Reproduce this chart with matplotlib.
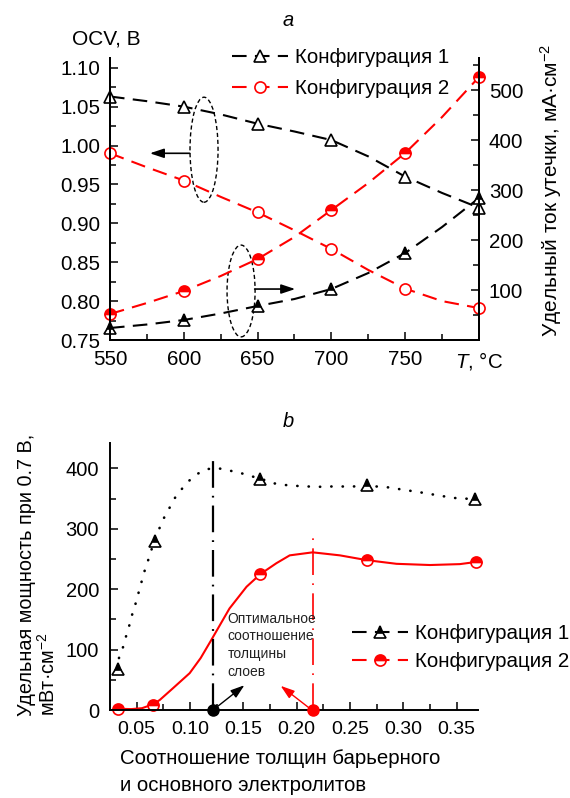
import matplotlib
matplotlib.use("Agg")
import matplotlib.pyplot as plt
from matplotlib.patches import Ellipse
from matplotlib.lines import Line2D

plt.rcParams['font.family'] = ['Liberation Sans', 'DejaVu Sans']
plt.rcParams['mathtext.fontset'] = 'custom'
plt.rcParams['mathtext.rm'] = 'Liberation Sans'
plt.rcParams['mathtext.it'] = 'Liberation Sans:italic'
plt.rcParams['mathtext.bf'] = 'Liberation Sans:bold'

# ---- (a) OCV и ток утечки от температуры ----
t_meas = [550, 600, 650, 700, 750, 800]
ocv1 = [1.063, 1.050, 1.028, 1.007, 0.960, 0.920]
ocv2 = [0.990, 0.955, 0.914, 0.867, 0.816, 0.791]
leak1 = [24, 40, 68, 102, 174, 284]
leak2 = [52, 98, 162, 260, 374, 526]

# линии (шаг 25 °C)
t_line = [550, 575, 600, 625, 650, 675, 700, 725, 750, 775, 800]
ocv1_line = [1.063, 1.057, 1.050, 1.040, 1.028, 1.018, 1.007, 0.986, 0.960, 0.939, 0.920]
ocv2_line = [0.990, 0.972, 0.955, 0.934, 0.914, 0.891, 0.867, 0.840, 0.816, 0.800, 0.791]
leak1_line = [24, 31, 40, 53, 68, 82, 102, 134, 174, 226, 284]
leak2_line = [52, 74, 98, 128, 162, 206, 260, 314, 374, 446, 526]

t_ticklabels = ['550', '600', '650', '700', '750', r'$T$, °C']

# ---- (b) удельная мощность ----
ratio1 = [0.0325, 0.0669, 0.166, 0.2664, 0.367]
power1 = [68, 280, 383, 373, 349]
ratio2 = [0.0325, 0.0653, 0.166, 0.266, 0.368]
power2 = [2, 9, 225, 248, 245]

# кривые
ratio1_line = [0.0334, 0.0372, 0.0397, 0.0428, 0.0456, 0.0488, 0.0516, 0.0544, 0.0572,
               0.0606, 0.0638, 0.0669, 0.0709, 0.0753, 0.0803, 0.0854, 0.0919, 0.0988,
               0.107, 0.117, 0.127, 0.138, 0.148, 0.1576, 0.166, 0.1795, 0.189, 0.1998,
               0.2107, 0.221, 0.2317, 0.242, 0.253, 0.2664, 0.275, 0.284, 0.295, 0.306,
               0.317, 0.327, 0.337, 0.348, 0.367]
power1_line = [86, 104, 120, 138, 157, 175, 193, 211, 229,
               247, 265, 280, 299, 317, 333, 350, 365, 379,
               391, 399, 400, 396, 392, 387, 383, 375, 372.5, 371,
               370, 369.5, 370, 370, 370, 372, 370, 369, 366, 363,
               360, 357, 354, 351, 349]
ratio2_line = [0.0325, 0.045, 0.055, 0.0653, 0.0716, 0.084, 0.0997, 0.11, 0.12, 0.137,
               0.153, 0.166, 0.181, 0.1935, 0.215, 0.2405, 0.266, 0.2936, 0.325, 0.353, 0.368]
power2_line = [2, 1.5, 3, 9.4, 16.5, 36, 61, 86, 116, 168,
               204, 225, 243, 256, 261, 256, 248, 242, 240, 241.5, 245]

opt1_x, opt1_top = 0.122, 414
opt2_x, opt2_top = 0.215, 286

leg_labels = ['Конфигурация 1', 'Конфигурация 2']
RED = '#ff0000'
DASH = (0, (7, 4))

fig = plt.figure(figsize=(5.7, 7.98), dpi=100)
W, H = 570.0, 798.0

# ======================= панель a =======================
ax1 = fig.add_axes([110 / W, 1 - 340 / H, 369 / W, 282 / H])
ax2 = ax1.twinx()

ax1.plot(t_line, ocv1_line, color='black', lw=1.5, ls=DASH)
ax1.plot(t_line, ocv2_line, color=RED, lw=1.5, ls=DASH)
ax1.plot(t_meas, ocv1, ls='none', marker='^', ms=8, mfc='white', mec='black', mew=1.2, clip_on=False)
ax1.plot(t_meas, ocv2, ls='none', marker='o', ms=8, mfc='white', mec=RED, mew=1.2, clip_on=False)

ax2.plot(t_line, leak1_line, color='black', lw=1.5, ls=DASH)
ax2.plot(t_line, leak2_line, color=RED, lw=1.5, ls=DASH)
ax2.plot(t_meas, leak1, ls='none', marker='^', ms=8, fillstyle='top', mfc='black',
         mfcalt='white', mec='black', mew=1.2, clip_on=False)
ax2.plot(t_meas, leak2, ls='none', marker='o', ms=8, fillstyle='top', mfc=RED,
         mfcalt='white', mec=RED, mew=1.2, clip_on=False)

ax1.set_xlim(550, 800)
ax1.set_ylim(0.75, 1.1125)
ax2.set_ylim(0, 564)
ax1.set_xticks(t_meas)
ax1.set_xticklabels(t_ticklabels)
ax1.set_xticks([575, 625, 675, 725, 775], minor=True)
ax1.set_yticks([0.75, 0.80, 0.85, 0.90, 0.95, 1.00, 1.05, 1.10])
ax1.set_yticklabels(['%.2f' % v for v in [0.75, 0.80, 0.85, 0.90, 0.95, 1.00, 1.05, 1.10]])
ax1.set_yticks([0.775, 0.825, 0.875, 0.925, 0.975, 1.025, 1.075], minor=True)
ax2.set_yticks([100, 200, 300, 400, 500])
ax2.set_yticks([50, 150, 250, 350, 450, 550], minor=True)

for ax in (ax1, ax2):
    ax.spines['top'].set_visible(False)
    for s in ax.spines.values():
        s.set_linewidth(1.4)
    ax.tick_params(which='major', direction='in', length=6, width=1.1, labelsize=14.8, pad=7)
    ax.tick_params(which='minor', direction='in', length=4, width=1.1)

ax1.text(-0.011, 1.067, 'OCV, В', transform=ax1.transAxes, ha='center', va='center', fontsize=15)
ax2.set_ylabel('Удельный ток утечки, мА·см$^{-2}$', fontsize=15)
ax2.yaxis.set_label_coords((538 - 110) / 369, 0.53)

# овалы и стрелки
ax1.add_patch(Ellipse((613.7, 0.9946), 19, 0.135, fill=False, ec='black', lw=1.0, ls=(0, (3, 2))))
ax1.add_patch(Ellipse((638.8, 0.813), 19, 0.118, fill=False, ec='black', lw=1.0, ls=(0, (3, 2))))
arrow_a = dict(arrowstyle='-|>,head_length=0.6,head_width=0.2', color='black', lw=1.2,
               mutation_scale=14, shrinkA=0, shrinkB=0)
ax1.annotate('', xy=(577, 0.990), xytext=(604, 0.990), arrowprops=arrow_a)
ax1.annotate('', xy=(675.5, 0.8155), xytext=(648, 0.8155), arrowprops=arrow_a)

ax1.legend(handles=[
    Line2D([], [], color='black', lw=1.5, ls=DASH, marker='^', ms=8, mfc='white', mec='black', mew=1.2),
    Line2D([], [], color=RED, lw=1.5, ls=DASH, marker='o', ms=8, mfc='white', mec=RED, mew=1.2)],
    labels=leg_labels, loc='upper left', bbox_to_anchor=(232 / W, 1 - 48 / H),
    bbox_transform=fig.transFigure, frameon=False, fontsize=14.8, handlelength=2.7,
    handletextpad=0.35, borderpad=0, borderaxespad=0, labelspacing=0.6)

fig.text(288 / W, 1 - 20 / H, 'a', style='italic', fontsize=14.5, ha='center', va='center')

# ======================= панель b =======================
bx = fig.add_axes([110 / W, 1 - 710 / H, 368 / W, 267 / H])

bx.plot(ratio1_line, power1_line, color='black', lw=1.9, ls=(0, (0.1, 4.2)),
        dash_capstyle='round')
bx.plot(ratio2_line, power2_line, color=RED, lw=1.5, ls='-')
bx.plot(ratio1, power1, ls='none', marker='^', ms=8, fillstyle='top', mfc='black',
        mfcalt='white', mec='black', mew=1.2, clip_on=False)
bx.plot(ratio2, power2, ls='none', marker='o', ms=8, fillstyle='top', mfc=RED,
        mfcalt='white', mec=RED, mew=1.2, clip_on=False)

# оптимальное соотношение
bx.plot([opt1_x, opt1_x], [0, opt1_top], color='black', lw=1.6, ls=(0, (12, 3.6, 0.8, 3.6)))
bx.plot([opt2_x, opt2_x], [0, opt2_top], color=RED, lw=1.2, ls=(0, (16, 5, 1, 5)))
bx.plot([opt1_x], [0], ls='none', marker='o', ms=8, color='black', clip_on=False, zorder=5)
bx.plot([opt2_x], [0], ls='none', marker='o', ms=8, color=RED, clip_on=False, zorder=5)

bx.text(0.1354, 107, 'Оптимальное\nсоотношение\nтолщины\nслоев', fontsize=10,
        ha='left', va='center', linespacing=1.35, color='#222222')
arrow_b = dict(arrowstyle='-|>,head_length=0.6,head_width=0.2', lw=1.0,
               mutation_scale=14, shrinkA=0, shrinkB=0)
bx.annotate('', xy=(0.151, 41), xytext=(0.1245, 4), arrowprops=dict(arrow_b, color='black'))
bx.annotate('', xy=(0.185, 40), xytext=(0.212, 3), arrowprops=dict(arrow_b, color=RED))

bx.set_xlim(0.025, 0.37)
bx.set_ylim(0, 442)
bx.set_xticks([0.05, 0.10, 0.15, 0.20, 0.25, 0.30, 0.35])
bx.set_xticklabels(['%.2f' % v for v in [0.05, 0.10, 0.15, 0.20, 0.25, 0.30, 0.35]])
bx.set_xticks([0.075, 0.125, 0.175, 0.225, 0.275, 0.325], minor=True)
bx.set_yticks([0, 100, 200, 300, 400])
bx.set_yticks([50, 150, 250, 350], minor=True)
bx.spines['top'].set_visible(False)
bx.spines['right'].set_visible(False)
for s in bx.spines.values():
    s.set_linewidth(1.4)
bx.tick_params(which='major', direction='in', length=6, width=1.1, labelsize=14.5, pad=8)
bx.tick_params(axis='x', labelsize=14)
bx.tick_params(which='minor', direction='in', length=4, width=1.1)

bx.legend(handles=[
    Line2D([], [], color='black', lw=1.5, ls=DASH, marker='^', ms=8, fillstyle='top',
           mfc='black', mfcalt='white', mec='black', mew=1.2),
    Line2D([], [], color=RED, lw=1.5, ls=DASH, marker='o', ms=8, fillstyle='top',
           mfc=RED, mfcalt='white', mec=RED, mew=1.2)],
    labels=leg_labels, loc='upper left', bbox_to_anchor=(352 / W, 1 - 624 / H),
    bbox_transform=fig.transFigure, frameon=False, fontsize=14.8, handlelength=2.7,
    handletextpad=0.35, borderpad=0, borderaxespad=0, labelspacing=0.45)

fig.text(288 / W, 1 - 421 / H, 'b', style='italic', fontsize=14.5, ha='center', va='center')
fig.text(38 / W, 1 - 716 / H, 'Удельная мощность при 0.7 В,\nмВт·см$^{-2}$', rotation=90,
         fontsize=14.3, ha='center', va='bottom', multialignment='left', linespacing=1.05)
fig.text(120 / W, 1 - 749 / H, 'Соотношение толщин барьерного\nи основного электролитов',
         fontsize=14.7, ha='left', va='top', linespacing=1.55)

fig.savefig('out.png', dpi=100)
